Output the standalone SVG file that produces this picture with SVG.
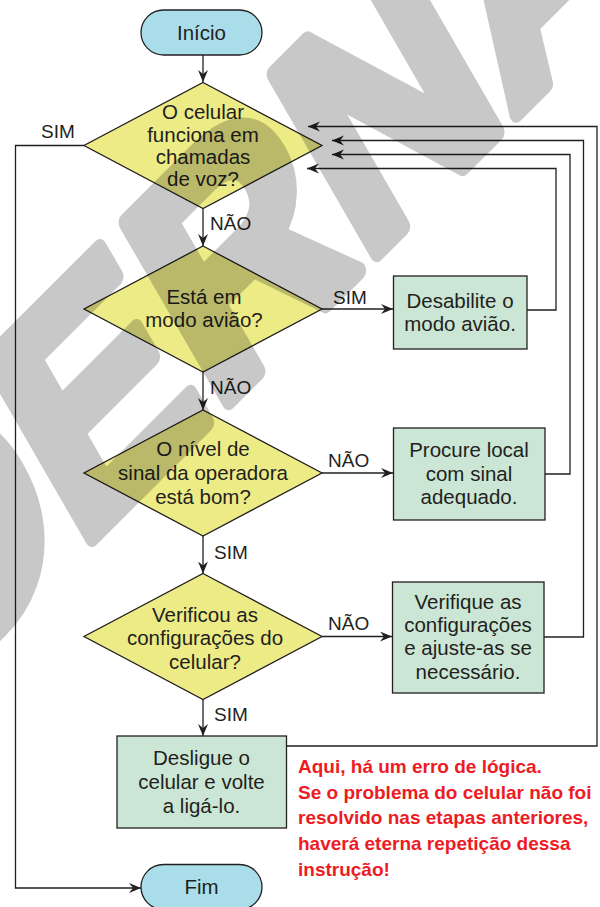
<svg xmlns="http://www.w3.org/2000/svg" width="600" height="907" viewBox="0 0 600 907">
<defs>
<style>
.term{fill:#a8dde9;stroke:#231f20;stroke-width:1.3}
.dec{fill:#edeb86;stroke:#231f20;stroke-width:1.3}
.proc{fill:#cbe6d4;stroke:#231f20;stroke-width:1.3}
.t{font-family:"Liberation Sans",Arial,sans-serif;font-size:20.5px;fill:#231f20;text-anchor:middle}
.lbl{font-family:"Liberation Sans",Arial,sans-serif;font-size:19px;fill:#231f20}
.note{font-family:"Liberation Sans",Arial,sans-serif;font-size:19px;font-weight:bold;fill:#ed1c24}
.c{fill:none;stroke:#231f20;stroke-width:1.3}
.wm{font-family:"Liberation Sans",Arial,sans-serif;font-size:290px;font-weight:bold;fill:#000;stroke:#000;stroke-width:16;stroke-linejoin:round}
</style>
<marker id="ah" markerUnits="userSpaceOnUse" markerWidth="13" markerHeight="11" refX="12" refY="5" orient="auto">
<path d="M0,0 L12,5 L0,10 L4,5 z" fill="#231f20"/>
</marker>
</defs>
<rect width="600" height="907" fill="#fff"/>

<g id="connectors">
<path class="c" d="M203,55 V82" marker-end="url(#ah)"/>
<path class="c" d="M203,208.5 V246" marker-end="url(#ah)"/>
<path class="c" d="M203,372 V410" marker-end="url(#ah)"/>
<path class="c" d="M203,536 V573.5" marker-end="url(#ah)"/>
<path class="c" d="M203,699.5 V736" marker-end="url(#ah)"/>
<path class="c" d="M322,309 H393" marker-end="url(#ah)"/>
<path class="c" d="M322,473 H393" marker-end="url(#ah)"/>
<path class="c" d="M322,636.5 H392" marker-end="url(#ah)"/>
<path class="c" d="M527,310 H556 V168.5 H307" marker-end="url(#ah)"/>
<path class="c" d="M545,474 H570 V154.5 H332" marker-end="url(#ah)"/>
<path class="c" d="M544,637 H583.5 V140.5 H332" marker-end="url(#ah)"/>
<path class="c" d="M286.5,746 H597 V126.5 H308" marker-end="url(#ah)"/>
<path class="c" d="M84,145.5 H15.5 V888 H141" marker-end="url(#ah)"/>
<text class="lbl" x="41" y="138">SIM</text>
<text class="lbl" x="210" y="229.5">NÃO</text>
<text class="lbl" x="210" y="393.5">NÃO</text>
<text class="lbl" x="214" y="558.5">SIM</text>
<text class="lbl" x="214" y="721">SIM</text>
<text class="lbl" x="333" y="303.5">SIM</text>
<text class="lbl" x="328" y="467">NÃO</text>
<text class="lbl" x="328" y="629.5">NÃO</text>
</g>

<g id="inicio">
<rect class="term" x="141" y="10" width="121" height="45" rx="22.5"/>
<text class="t" x="201.5" y="39.5">Início</text>
</g>

<g id="q1">
<polygon class="dec" points="203,82.5 322,145.5 203,208.5 84,145.5"/>
<text class="t" x="203" y="118.5">O celular</text>
<text class="t" x="203" y="141.5">funciona em</text>
<text class="t" x="203" y="164">chamadas</text>
<text class="t" x="203" y="186">de voz?</text>
</g>

<g id="q2">
<polygon class="dec" points="203,246 322,309 203,372 84,309"/>
<text class="t" x="204" y="303.5">Está em</text>
<text class="t" x="204" y="327">modo avião?</text>
</g>

<g id="q3">
<polygon class="dec" points="203,410 322,473 203,536 84,473"/>
<text class="t" x="203" y="456">O nível de</text>
<text class="t" x="203" y="480">sinal da operadora</text>
<text class="t" x="203" y="503.5">está bom?</text>
</g>

<g id="q4">
<polygon class="dec" points="203,573.5 322,636.5 203,699.5 84,636.5"/>
<text class="t" x="205" y="621.5">Verificou as</text>
<text class="t" x="205" y="645">configurações do</text>
<text class="t" x="205" y="668.5">celular?</text>
</g>

<g id="desabilite">
<rect class="proc" x="393.5" y="276" width="133.5" height="73"/>
<text class="t" x="460" y="308">Desabilite o</text>
<text class="t" x="460" y="331">modo avião.</text>
</g>

<g id="procure">
<rect class="proc" x="393.5" y="428" width="151.5" height="92"/>
<text class="t" x="469" y="456.5">Procure local</text>
<text class="t" x="469" y="480.5">com sinal</text>
<text class="t" x="469" y="504">adequado.</text>
</g>

<g id="verifique">
<rect class="proc" x="392.5" y="582" width="151.5" height="111"/>
<text class="t" x="468" y="608.5">Verifique as</text>
<text class="t" x="468" y="632">configurações</text>
<text class="t" x="468" y="655">e ajuste-as se</text>
<text class="t" x="468" y="678.5">necessário.</text>
</g>

<g id="desligue">
<rect class="proc" x="117" y="736" width="169.5" height="92"/>
<text class="t" x="201.5" y="765">Desligue o</text>
<text class="t" x="201.5" y="789">celular e volte</text>
<text class="t" x="201.5" y="812.5">a ligá-lo.</text>
</g>

<g id="fim">
<rect class="term" x="141" y="864.5" width="121" height="45" rx="22.5"/>
<text class="t" x="201.5" y="894">Fim</text>
</g>

<g id="nota">
<text class="note" x="298" y="773">Aqui, há um erro de lógica.</text>
<text class="note" x="298" y="798.5">Se o problema do celular não foi</text>
<text class="note" x="298" y="824">resolvido nas etapas anteriores,</text>
<text class="note" x="298" y="849.5">haverá eterna repetição dessa</text>
<text class="note" x="298" y="875.5">instrução!</text>
</g>

<g id="watermark" opacity="0.21">
<text class="wm" transform="translate(-400,1030) rotate(-45) skewX(-15)">MODERNA</text>
</g>
</svg>
